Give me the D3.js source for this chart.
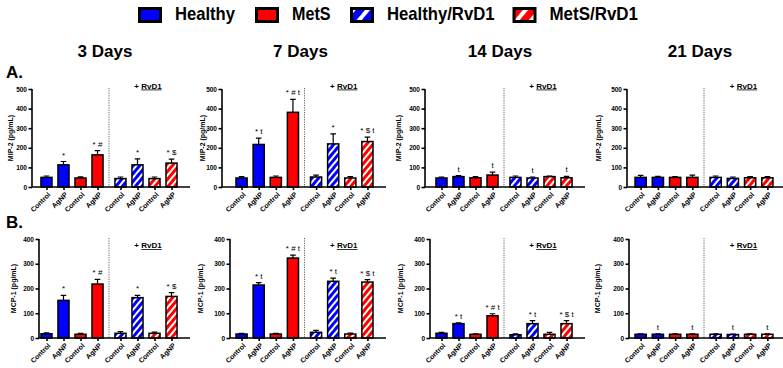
<!DOCTYPE html>
<html>
<head>
<meta charset="utf-8">
<script src="https://cdn.jsdelivr.net/npm/d3@7"></script>
<style>
  body { margin: 0; background: #fff; }
  text { font-family: 'Liberation Sans', Arial, Helvetica, sans-serif; }
  .axis path, .axis line { stroke: #000; stroke-width: 1.6px; }
  .axis text { font-weight: bold; fill: #000; }
</style>
</head>
<body>
<script>
// ---- data ----
const days = ['3 Days', '7 Days', '14 Days', '21 Days'];
const legendGroups = ['Healthy', 'MetS', 'Healthy/RvD1', 'MetS/RvD1'];
const barLabels = ['Control', 'AgNP', 'Control', 'AgNP', 'Control', 'AgNP', 'Control', 'AgNP'];
const barGroups = ['Healthy', 'Healthy', 'MetS', 'MetS', 'Healthy/RvD1', 'Healthy/RvD1', 'MetS/RvD1', 'MetS/RvD1'];

// MIP-2 (pg/mL), one array per day, 8 bars each
const mip2Mean = [
  [49, 113, 46, 164, 43, 113, 43, 122],
  [46, 217, 49, 381, 51, 220, 46, 232],
  [46, 53, 47, 61, 49, 46, 53, 47],
  [49, 49, 49, 49, 49, 44, 47, 47]
];
const mip2Err = [
  [7, 17, 6, 22, 8, 31, 8, 20],
  [7, 32, 7, 66, 10, 51, 7, 22],
  [5, 5, 6, 15, 7, 5, 3, 7],
  [10, 5, 4, 12, 7, 7, 6, 6]
];
const mip2Marks = [
  ['', '*', '', '* #', '', '*', '', '* $'],
  ['', '* t', '', '* # t', '', '*', '', '* $ t'],
  ['', 't', '', 't', '', 't', '', 't'],
  ['', '', '', '', '', '', '', '']
];

// MCP-1 (pg/mL)
const mcp1Mean = [
  [17, 152, 15, 218, 19, 163, 19, 168],
  [16, 214, 16, 323, 23, 229, 16, 226],
  [19, 58, 15, 90, 13, 58, 15, 58],
  [15, 15, 15, 15, 15, 14, 15, 15]
];
const mcp1Err = [
  [4, 20, 4, 19, 7, 9, 5, 15],
  [3, 10, 3, 12, 8, 13, 4, 10],
  [4, 3, 2, 8, 4, 12, 8, 12],
  [2, 2, 2, 2, 2, 2, 2, 2]
];
const mcp1Marks = [
  ['', '*', '', '* #', '', '*', '', '* $'],
  ['', '* t', '', '* # t', '', '* t', '', '* $ t'],
  ['', '* t', '', '* # t', '', '* t', '', '* $ t'],
  ['', 't', '', 't', '', 't', '', 't']
];

const yTicksMip2 = [0, 100, 200, 300, 400, 500];
const yTicksMcp1 = [0, 100, 200, 300, 400];

// ---- layout ----
const colRange = [[35, 183], [230, 379], [430, 578], [629, 779]];
const rows = [
  { tag: 'A.', tagY: 78, label: 'MIP-2 (pg/mL)', mean: mip2Mean, err: mip2Err, marks: mip2Marks,
    ticks: yTicksMip2, yTop: 89, yBottom: 187, axisX: [32, 222, 425, 627], labelX: [13, 205, 401, 601], rvdY: 88.5 },
  { tag: 'B.', tagY: 228, label: 'MCP-1 (pg/mL)', mean: mcp1Mean, err: mcp1Err, marks: mcp1Marks,
    ticks: yTicksMcp1, yTop: 239, yBottom: 338, axisX: [39, 230, 430, 629], labelX: [16, 203, 403, 600], rvdY: 248 }
];

const colors = { 'Healthy': '#0000ff', 'MetS': '#ff0000', 'Healthy/RvD1': '#0000ff', 'MetS/RvD1': '#ff0000' };

const svg = d3.select('body').append('svg')
    .attr('width', 783)
    .attr('height', 368);

svg.append('rect').attr('width', 783).attr('height', 368).attr('fill', '#fff');

// hatch patterns
const defs = svg.append('defs');
function hatch(id, color, size, stripe) {
  const p = defs.append('pattern')
      .attr('id', id)
      .attr('patternUnits', 'userSpaceOnUse')
      .attr('width', size)
      .attr('height', size)
      .attr('patternTransform', 'rotate(40)');
  p.append('rect').attr('width', size).attr('height', size).attr('fill', color);
  p.append('rect').attr('width', stripe).attr('height', size).attr('fill', '#fff');
}
hatch('hatch-blue', '#0000ff', 5, 2);
hatch('hatch-red', '#ff0000', 5, 2);
hatch('leg-blue', '#0000ff', 11, 4);
hatch('leg-red', '#ff0000', 11, 4);

function fillFor(g, legend) {
  if (g === 'Healthy/RvD1') return legend ? 'url(#leg-blue)' : 'url(#hatch-blue)';
  if (g === 'MetS/RvD1') return legend ? 'url(#leg-red)' : 'url(#hatch-red)';
  return colors[g];
}

// ---- legend ----
const legendX = [138, 255, 350, 512.5];
const legendW = [60, 38.5, 107.5, 88.5];
const legend = svg.append('g').attr('class', 'legend');
legendGroups.forEach((g, i) => {
  legend.append('rect')
      .attr('x', legendX[i] + 1.5).attr('y', 8.5)
      .attr('width', 21).attr('height', 13)
      .attr('fill', fillFor(g, true))
      .attr('stroke', '#000').attr('stroke-width', 3);
  legend.append('text')
      .attr('x', legendX[i] + 37).attr('y', 20)
      .attr('textLength', legendW[i])
      .attr('lengthAdjust', 'spacingAndGlyphs')
      .style('font-size', '19px').style('font-weight', 'bold')
      .text(g);
});

// ---- column titles ----
days.forEach((d, c) => {
  svg.append('text')
      .attr('x', (colRange[c][0] + colRange[c][1]) / 2 - 4)
      .attr('y', 57)
      .attr('text-anchor', 'middle')
      .style('font-size', '17px').style('font-weight', 'bold')
      .text(d);
});

// ---- panels ----
rows.forEach(row => {
  svg.append('text')
      .attr('x', 6).attr('y', row.tagY)
      .style('font-size', '17px').style('font-weight', 'bold')
      .text(row.tag);

  days.forEach((d, c) => {
    const chart = svg.append('g');
    const x0 = d3.scaleBand().domain(['base', 'rvd1']).range(colRange[c]);
    const x1 = d3.scaleBand().domain([0, 1, 2, 3]).range([0, x0.bandwidth()]).padding(0.35);
    const yScale = d3.scaleLinear()
        .domain([0, d3.max(row.ticks)])
        .range([row.yBottom, row.yTop]);

    const bars = row.mean[c].map((v, i) => ({
      i, value: v, err: row.err[c][i], mark: row.marks[c][i],
      group: barGroups[i], label: barLabels[i],
      x: x0(i < 4 ? 'base' : 'rvd1') + x1(i % 4)
    }));
    const centers = bars.map(b => b.x + x1.bandwidth() / 2);

    // separator line
    chart.append('line')
        .attr('x1', x0('rvd1')).attr('x2', x0('rvd1'))
        .attr('y1', row.yTop - 1).attr('y2', row.yBottom)
        .attr('stroke', '#666').attr('stroke-width', 1)
        .attr('stroke-dasharray', '1.2,1.2');

    // bars
    chart.selectAll('.bar')
        .data(bars)
      .join('rect')
        .attr('class', 'bar')
        .attr('x', b => b.x)
        .attr('y', b => yScale(b.value))
        .attr('width', x1.bandwidth())
        .attr('height', b => row.yBottom - yScale(b.value))
        .attr('fill', b => fillFor(b.group, false))
        .attr('stroke', '#000')
        .attr('stroke-width', 1.5);

    // error bars
    const cap = x1.bandwidth() * 0.25;
    chart.selectAll('.err')
        .data(bars)
      .join('path')
        .attr('class', 'err')
        .attr('d', b => {
          const cx = b.x + x1.bandwidth() / 2;
          const y1 = yScale(b.value), y2 = yScale(b.value + b.err);
          return `M${cx},${y1}V${y2}M${cx - cap},${y2}H${cx + cap}`;
        })
        .attr('fill', 'none')
        .attr('stroke', '#000')
        .attr('stroke-width', 1.2);

    // significance marks
    chart.selectAll('.mark')
        .data(bars.filter(b => b.mark))
      .join('text')
        .attr('class', 'mark')
        .attr('x', b => b.x + x1.bandwidth() / 2)
        .attr('y', b => yScale(b.value + b.err) - 4)
        .attr('text-anchor', 'middle')
        .style('font-size', '8px')
        .text(b => b.mark);

    // y axis
    const yAxis = d3.axisLeft(yScale)
        .tickValues(row.ticks)
        .tickSize(3.5)
        .tickPadding(1.5);
    const yAxisG = chart.append('g')
        .attr('class', 'axis y-axis')
        .attr('transform', `translate(${row.axisX[c]},0)`)
        .call(yAxis);
    yAxisG.select('.domain').attr('d', `M0,${row.yTop}V${row.yBottom}`);
    yAxisG.selectAll('text').style('font-size', '6.5px');

    // x axis
    const xPos = d3.scaleOrdinal().domain(d3.range(8)).range(centers);
    const xAxis = d3.axisBottom(xPos)
        .tickSize(3)
        .tickPadding(2)
        .tickFormat(i => barLabels[i]);
    const xAxisG = chart.append('g')
        .attr('class', 'axis x-axis')
        .attr('transform', `translate(0,${row.yBottom})`)
        .call(xAxis);
    xAxisG.select('.domain').attr('d', `M${row.axisX[c]},0H${colRange[c][1] + 7}`);
    xAxisG.selectAll('text')
        .style('font-size', '7px')
        .attr('text-anchor', 'end')
        .attr('dy', '0.3em')
        .attr('transform', 'translate(-1,3) rotate(-45)');

    // axis title
    chart.append('text')
        .attr('transform', `translate(${row.labelX[c]},${(row.yTop + row.yBottom) / 2}) rotate(-90)`)
        .attr('text-anchor', 'middle')
        .style('font-size', '7px').style('font-weight', 'bold')
        .text(row.label);

    // + RvD1 note
    const note = chart.append('text')
        .attr('x', x0('rvd1') + x0.bandwidth() / 2 + 2)
        .attr('y', row.rvdY)
        .attr('text-anchor', 'middle')
        .style('font-size', '8px').style('font-weight', 'bold');
    note.append('tspan').text('+ ');
    note.append('tspan').style('text-decoration', 'underline').text('RvD1');
  });
});
</script>
</body>
</html>
